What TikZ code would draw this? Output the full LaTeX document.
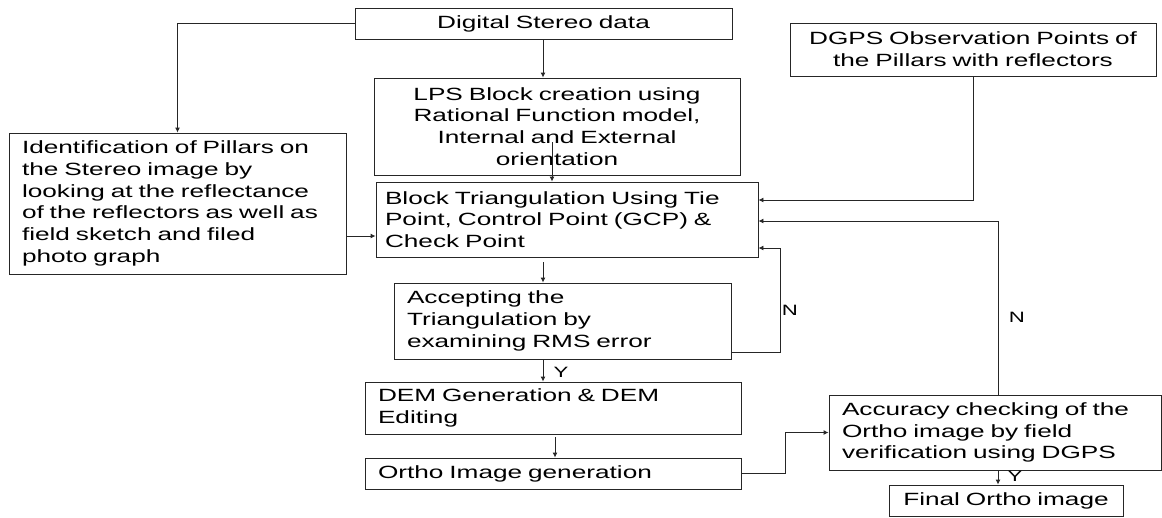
\documentclass[tikz,border=0pt]{standalone}
\usepackage{fontspec}
\setmainfont{Liberation Sans}[FakeStretch=1.48]
\usetikzlibrary{arrows.meta}
\begin{document}
\begin{tikzpicture}[x=1pt,y=-1pt,
  box/.style={draw=black!85,line width=0.9pt,rectangle,inner ysep=0pt,
    font=\fontsize{17.7}{21.7}\selectfont},
  arr/.style={draw=black!85,line width=0.9pt,-{Latex[length=5pt,width=5pt]}},
  lbl/.style={font=\fontsize{15}{18}\selectfont,inner sep=0pt}]
\useasboundingbox[fill=white] (0,0) rectangle (1162,517);
% boxes
\node[box,minimum width=377pt,minimum height=31pt,text width=365pt,align=center] (ds) at (543.5,23.5) {Digital Stereo data};
\node[box,minimum width=337pt,minimum height=141pt,text width=311pt,inner xsep=13pt,align=left] (id) at (177.5,203.5) {Identification of Pillars on\\the Stereo image by\\looking at the reflectance\\of the reflectors as well as\\field sketch and filed\\photo graph};
\node[box,minimum width=366pt,minimum height=97pt,text width=350pt,align=center] (lps) at (557,126.5) {LPS Block creation using\\Rational Function model,\\Internal and External\\orientation};
\node[box,minimum width=382pt,minimum height=75pt,text width=364pt,inner xsep=9pt,align=left] (bt) at (567,219.5) {Block Triangulation Using Tie\\Point, Control Point (GCP) \&\\Check Point};
\node[box,minimum width=366pt,minimum height=53pt,text width=350pt,align=center] (dgps) at (973,49.5) {DGPS Observation Points of\\the Pillars with reflectors};
\node[box,minimum width=337pt,minimum height=76pt,text width=311pt,inner xsep=13pt,align=left] (acc) at (562.5,321) {Accepting the\\Triangulation by\\examining RMS error};
\node[box,minimum width=376pt,minimum height=52pt,text width=350pt,inner xsep=13pt,align=left] (dem) at (553,408) {DEM Generation \& DEM\\Editing};
\node[box,minimum width=376pt,minimum height=31pt,text width=350pt,inner xsep=13pt,align=left] (ortho) at (553,473.5) {Ortho Image generation};
\node[box,minimum width=332pt,minimum height=75pt,text width=306pt,inner xsep=13pt,align=left] (accu) at (995,432.5) {Accuracy checking of the\\Ortho image by field\\verification using DGPS};
\node[box,minimum width=234pt,minimum height=31pt,text width=220pt,align=center] (fin) at (1006,500.5) {Final Ortho image};
% connectors
\draw[arr] (ds.west) -| (id.north);
\draw[arr] (ds.south -| 543,0) -- (lps.north -| 543,0);
\coordinate (lpsin) at (552,142);
\draw[arr] (lpsin) -- (bt.north -| lpsin);
\draw[arr] (id.east |- 0,236) -- (bt.west |- 0,236);
\draw[arr] (dgps.south) |- (bt.east |- 0,200);
\draw[arr] (accu.north -| 998,0) |- (bt.east |- 0,221);
\coordinate (loop) at (780,352);
\draw[arr] (acc.east |- loop) -- (loop) |- (bt.east |- 0,248);
\draw[arr] (bt.south -| 543,0) ++(0,5) -- (acc.north -| 543,0);
\draw[arr] (acc.south -| 543,0) -- (dem.north -| 543,0);
\draw[arr] (dem.south -| 555,0) ++(0,3) -- (ortho.north -| 555,0);
\draw[arr] (ortho.east) -- ++(44,0) |- (accu.west);
\draw[arr] (accu.south -| 998,0) -- (fin.north -| 998,0);
% labels
\node[lbl] (n1) at (790,310) {N};
\node[lbl] (n2) at (1017,317) {N};
\node[lbl] (y1) at (561,372) {Y};
\node[lbl] (y2) at (1015,476) {Y};
\end{tikzpicture}
\end{document}
